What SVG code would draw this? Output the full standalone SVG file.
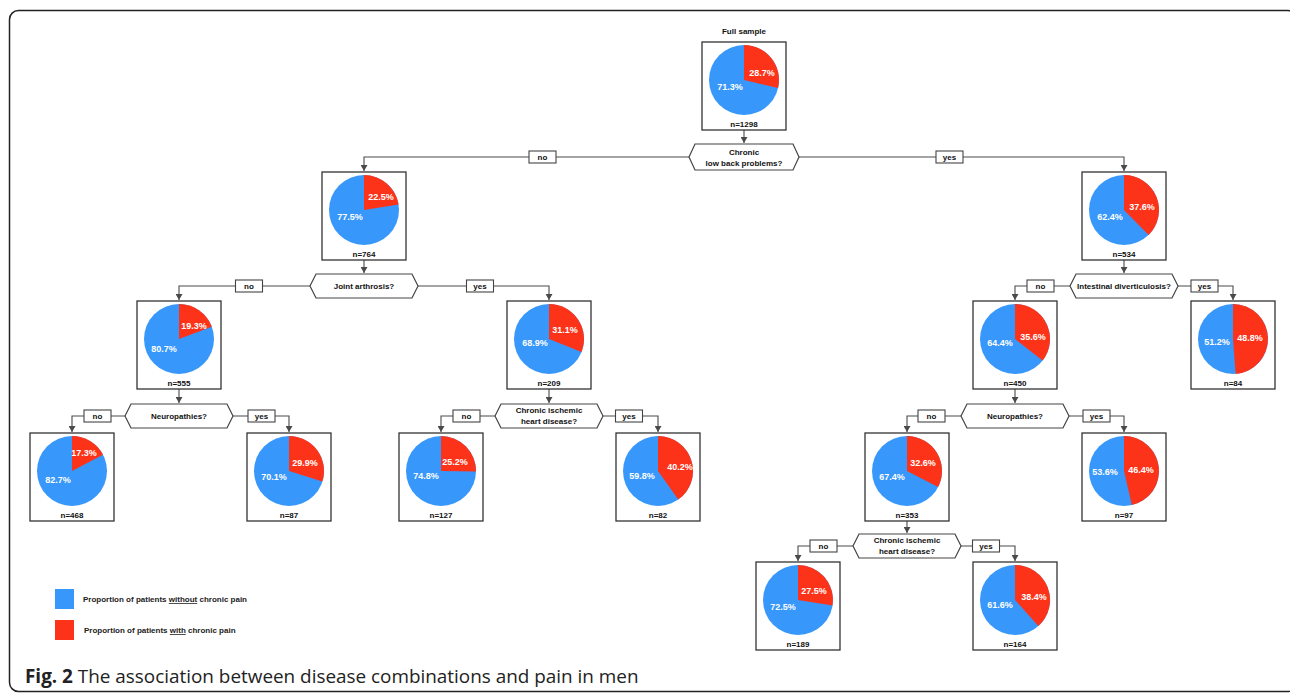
<svg xmlns="http://www.w3.org/2000/svg" width="1290" height="693" viewBox="0 0 1290 693">
<style>
.box{fill:#fff;stroke:#333;stroke-width:1.3}
.hex{fill:#fff;stroke:#444;stroke-width:1.2}
.lbl{fill:#fff;stroke:#444;stroke-width:1.1}
.con{fill:none;stroke:#4a4a4a;stroke-width:1.1}
.blue{fill:#3797fa}
.red{fill:#fd3319}
.t{font-family:"Liberation Sans",Arial,sans-serif;font-weight:bold;font-size:8px;fill:#111;text-anchor:middle}
.p{font-family:"Liberation Sans",Arial,sans-serif;font-weight:bold;font-size:9px;fill:#fff;text-anchor:middle}
.leg{font-family:"Liberation Sans",Arial,sans-serif;font-weight:bold;font-size:8px;fill:#222}
</style>
<defs>
<marker id="ad" markerWidth="7" markerHeight="6" refX="3.5" refY="6" markerUnits="userSpaceOnUse" viewBox="0 0 7 6">
<path d="M0,0 L7,0 L3.5,6 Z" fill="#4a4a4a"/>
</marker>
<rect id="nb" x="-42" y="-38" width="84" height="88" class="box"/>
<path id="hx" d="M-54,0 L-48,-12 L48,-12 L54,0 L48,12 L-48,12 Z" class="hex"/>
<path id="hx2" d="M-55,0 L-49,-13 L49,-13 L55,0 L49,13 L-49,13 Z" class="hex"/>
<rect id="lb" x="-13.5" y="-6" width="27" height="12" class="lbl"/>
</defs>

<rect x="9.5" y="10.5" width="1287" height="681" rx="9" fill="none" stroke="#222" stroke-width="1.5"/>

<g id="connectors">
<path class="con" d="M744,130 V143" marker-end="url(#ad)"/>
<path class="con" d="M689,157 H364 V171" marker-end="url(#ad)"/>
<path class="con" d="M799,157 H1124 V171" marker-end="url(#ad)"/>
<path class="con" d="M364,260 V273" marker-end="url(#ad)"/>
<path class="con" d="M310,286 H179 V300" marker-end="url(#ad)"/>
<path class="con" d="M418,286 H549 V300" marker-end="url(#ad)"/>
<path class="con" d="M1124,260 V273" marker-end="url(#ad)"/>
<path class="con" d="M1070,286 H1015 V300" marker-end="url(#ad)"/>
<path class="con" d="M1178,286 H1233 V300" marker-end="url(#ad)"/>
<path class="con" d="M179,389 V403" marker-end="url(#ad)"/>
<path class="con" d="M125,416 H72 V432" marker-end="url(#ad)"/>
<path class="con" d="M233,416 H289 V432" marker-end="url(#ad)"/>
<path class="con" d="M549,389 V403" marker-end="url(#ad)"/>
<path class="con" d="M495,416 H441 V432" marker-end="url(#ad)"/>
<path class="con" d="M603,416 H658 V432" marker-end="url(#ad)"/>
<path class="con" d="M1015,389 V403" marker-end="url(#ad)"/>
<path class="con" d="M961,416 H907 V432" marker-end="url(#ad)"/>
<path class="con" d="M1069,416 H1124 V432" marker-end="url(#ad)"/>
<path class="con" d="M907,521 V533" marker-end="url(#ad)"/>
<path class="con" d="M853,546 H798 V561" marker-end="url(#ad)"/>
<path class="con" d="M961,546 H1015 V561" marker-end="url(#ad)"/>
<use href="#lb" x="542.5" y="157"/><text class="t" x="542.5" y="160">no</text>
<use href="#lb" x="949.5" y="157"/><text class="t" x="949.5" y="160">yes</text>
<use href="#lb" x="249" y="286"/><text class="t" x="249" y="289">no</text>
<use href="#lb" x="480" y="286"/><text class="t" x="480" y="289">yes</text>
<use href="#lb" x="1040.5" y="286"/><text class="t" x="1040.5" y="289">no</text>
<use href="#lb" x="1204.5" y="286"/><text class="t" x="1204.5" y="289">yes</text>
<use href="#lb" x="97.5" y="416"/><text class="t" x="97.5" y="419">no</text>
<use href="#lb" x="261.5" y="416"/><text class="t" x="261.5" y="419">yes</text>
<use href="#lb" x="466.5" y="416"/><text class="t" x="466.5" y="419">no</text>
<use href="#lb" x="629" y="416"/><text class="t" x="629" y="419">yes</text>
<use href="#lb" x="931.5" y="416"/><text class="t" x="931.5" y="419">no</text>
<use href="#lb" x="1096.5" y="416"/><text class="t" x="1096.5" y="419">yes</text>
<use href="#lb" x="823.5" y="546"/><text class="t" x="823.5" y="549">no</text>
<use href="#lb" x="986" y="546"/><text class="t" x="986" y="549">yes</text>
</g>

<g id="q-root">
<use href="#hx2" x="744" y="157"/>
<text class="t" x="744" y="155">Chronic</text>
<text class="t" x="744" y="166">low back problems?</text>
</g>
<g id="q-joint">
<use href="#hx" x="364" y="286"/>
<text class="t" x="364" y="289">Joint arthrosis?</text>
</g>
<g id="q-intestinal">
<use href="#hx" x="1124" y="286"/>
<text class="t" x="1124" y="289">Intestinal diverticulosis?</text>
</g>
<g id="q-neuro-left">
<use href="#hx" x="179" y="416"/>
<text class="t" x="179" y="419">Neuropathies?</text>
</g>
<g id="q-cihd-left">
<use href="#hx" x="549" y="416"/>
<text class="t" x="549" y="413">Chronic ischemic</text>
<text class="t" x="549" y="424">heart disease?</text>
</g>
<g id="q-neuro-right">
<use href="#hx" x="1015" y="416"/>
<text class="t" x="1015" y="419">Neuropathies?</text>
</g>
<g id="q-cihd-right">
<use href="#hx" x="907" y="546"/>
<text class="t" x="907" y="543">Chronic ischemic</text>
<text class="t" x="907" y="554">heart disease?</text>
</g>

<g id="n-root">
<text class="t" x="744" y="34">Full sample</text>
<use href="#nb" x="744" y="80"/>
<circle class="blue" cx="744" cy="80" r="35"/>
<path class="red" d="M744,80 V45 A35,35 0 0 1 778.06,88.06 Z"/>
<text class="p" x="762" y="76">28.7%</text>
<text class="p" x="730" y="90">71.3%</text>
<text class="t" x="744" y="127">n=1298</text>
</g>
<g id="n-764">
<use href="#nb" x="364" y="210"/>
<circle class="blue" cx="364" cy="210" r="35"/>
<path class="red" d="M364,210 V175 A35,35 0 0 1 398.57,204.52 Z"/>
<text class="p" x="381" y="200">22.5%</text>
<text class="p" x="350" y="220">77.5%</text>
<text class="t" x="364" y="257">n=764</text>
</g>
<g id="n-534">
<use href="#nb" x="1124" y="210"/>
<circle class="blue" cx="1124" cy="210" r="35"/>
<path class="red" d="M1124,210 V175 A35,35 0 0 1 1148.59,234.91 Z"/>
<text class="p" x="1142" y="210">37.6%</text>
<text class="p" x="1110" y="220">62.4%</text>
<text class="t" x="1124" y="257">n=534</text>
</g>
<g id="n-555">
<use href="#nb" x="179" y="339"/>
<circle class="blue" cx="179" cy="339" r="35"/>
<path class="red" d="M179,339 V304 A35,35 0 0 1 211.78,326.73 Z"/>
<text class="p" x="194" y="329">19.3%</text>
<text class="p" x="164" y="352">80.7%</text>
<text class="t" x="179" y="386">n=555</text>
</g>
<g id="n-209">
<use href="#nb" x="549" y="339"/>
<circle class="blue" cx="549" cy="339" r="35"/>
<path class="red" d="M549,339 V304 A35,35 0 0 1 581.46,352.09 Z"/>
<text class="p" x="565" y="333">31.1%</text>
<text class="p" x="535" y="346">68.9%</text>
<text class="t" x="549" y="386">n=209</text>
</g>
<g id="n-450">
<use href="#nb" x="1015" y="339"/>
<circle class="blue" cx="1015" cy="339" r="35"/>
<path class="red" d="M1015,339 V304 A35,35 0 0 1 1042.52,360.62 Z"/>
<text class="p" x="1033" y="340">35.6%</text>
<text class="p" x="1000" y="346">64.4%</text>
<text class="t" x="1015" y="386">n=450</text>
</g>
<g id="n-84">
<use href="#nb" x="1233" y="339"/>
<circle class="blue" cx="1233" cy="339" r="35"/>
<path class="red" d="M1233,339 V304 A35,35 0 0 1 1235.64,373.90 Z"/>
<text class="p" x="1250" y="341">48.8%</text>
<text class="p" x="1217" y="345">51.2%</text>
<text class="t" x="1233" y="386">n=84</text>
</g>
<g id="n-468">
<use href="#nb" x="72" y="471"/>
<circle class="blue" cx="72" cy="471" r="35"/>
<path class="red" d="M72,471 V436 A35,35 0 0 1 102.98,454.72 Z"/>
<text class="p" x="84" y="456">17.3%</text>
<text class="p" x="58" y="483">82.7%</text>
<text class="t" x="72" y="518">n=468</text>
</g>
<g id="n-87">
<use href="#nb" x="289" y="471"/>
<circle class="blue" cx="289" cy="471" r="35"/>
<path class="red" d="M289,471 V436 A35,35 0 0 1 322.36,481.61 Z"/>
<text class="p" x="305" y="466">29.9%</text>
<text class="p" x="274" y="480">70.1%</text>
<text class="t" x="289" y="518">n=87</text>
</g>
<g id="n-127">
<use href="#nb" x="441" y="471"/>
<circle class="blue" cx="441" cy="471" r="35"/>
<path class="red" d="M441,471 V436 A35,35 0 0 1 476,471.44 Z"/>
<text class="p" x="455" y="465">25.2%</text>
<text class="p" x="426" y="479">74.8%</text>
<text class="t" x="441" y="518">n=127</text>
</g>
<g id="n-82">
<use href="#nb" x="658" y="471"/>
<circle class="blue" cx="658" cy="471" r="35"/>
<path class="red" d="M658,471 V436 A35,35 0 0 1 678.22,499.57 Z"/>
<text class="p" x="680" y="470">40.2%</text>
<text class="p" x="642" y="479">59.8%</text>
<text class="t" x="658" y="518">n=82</text>
</g>
<g id="n-353">
<use href="#nb" x="907" y="471"/>
<circle class="blue" cx="907" cy="471" r="35"/>
<path class="red" d="M907,471 V436 A35,35 0 0 1 938.09,487.09 Z"/>
<text class="p" x="923" y="466">32.6%</text>
<text class="p" x="892" y="480">67.4%</text>
<text class="t" x="907" y="518">n=353</text>
</g>
<g id="n-97">
<use href="#nb" x="1124" y="471"/>
<circle class="blue" cx="1124" cy="471" r="35"/>
<path class="red" d="M1124,471 V436 A35,35 0 0 1 1131.85,505.11 Z"/>
<text class="p" x="1141" y="473">46.4%</text>
<text class="p" x="1105" y="475">53.6%</text>
<text class="t" x="1124" y="518">n=97</text>
</g>
<g id="n-189">
<use href="#nb" x="798" y="600"/>
<circle class="blue" cx="798" cy="600" r="35"/>
<path class="red" d="M798,600 V565 A35,35 0 0 1 832.57,605.48 Z"/>
<text class="p" x="814" y="594">27.5%</text>
<text class="p" x="783" y="610">72.5%</text>
<text class="t" x="798" y="647">n=189</text>
</g>
<g id="n-164">
<use href="#nb" x="1015" y="600"/>
<circle class="blue" cx="1015" cy="600" r="35"/>
<path class="red" d="M1015,600 V565 A35,35 0 0 1 1038.31,626.11 Z"/>
<text class="p" x="1034" y="600">38.4%</text>
<text class="p" x="1000" y="608">61.6%</text>
<text class="t" x="1015" y="647">n=164</text>
</g>

<g id="legend">
<rect class="blue" x="55" y="589" width="19" height="20"/>
<rect class="red" x="55" y="620" width="19" height="20"/>
<text class="leg" x="83" y="602">Proportion of patients <tspan text-decoration="underline">without</tspan> chronic pain</text>
<text class="leg" x="84" y="633">Proportion of patients <tspan text-decoration="underline">with</tspan> chronic pain</text>
</g>

<text x="25" y="683" font-family="'Open Sans','Noto Sans',sans-serif" font-size="18.9" fill="#222"><tspan font-weight="bold">Fig. 2</tspan> The association between disease combinations and pain in men</text>
</svg>
